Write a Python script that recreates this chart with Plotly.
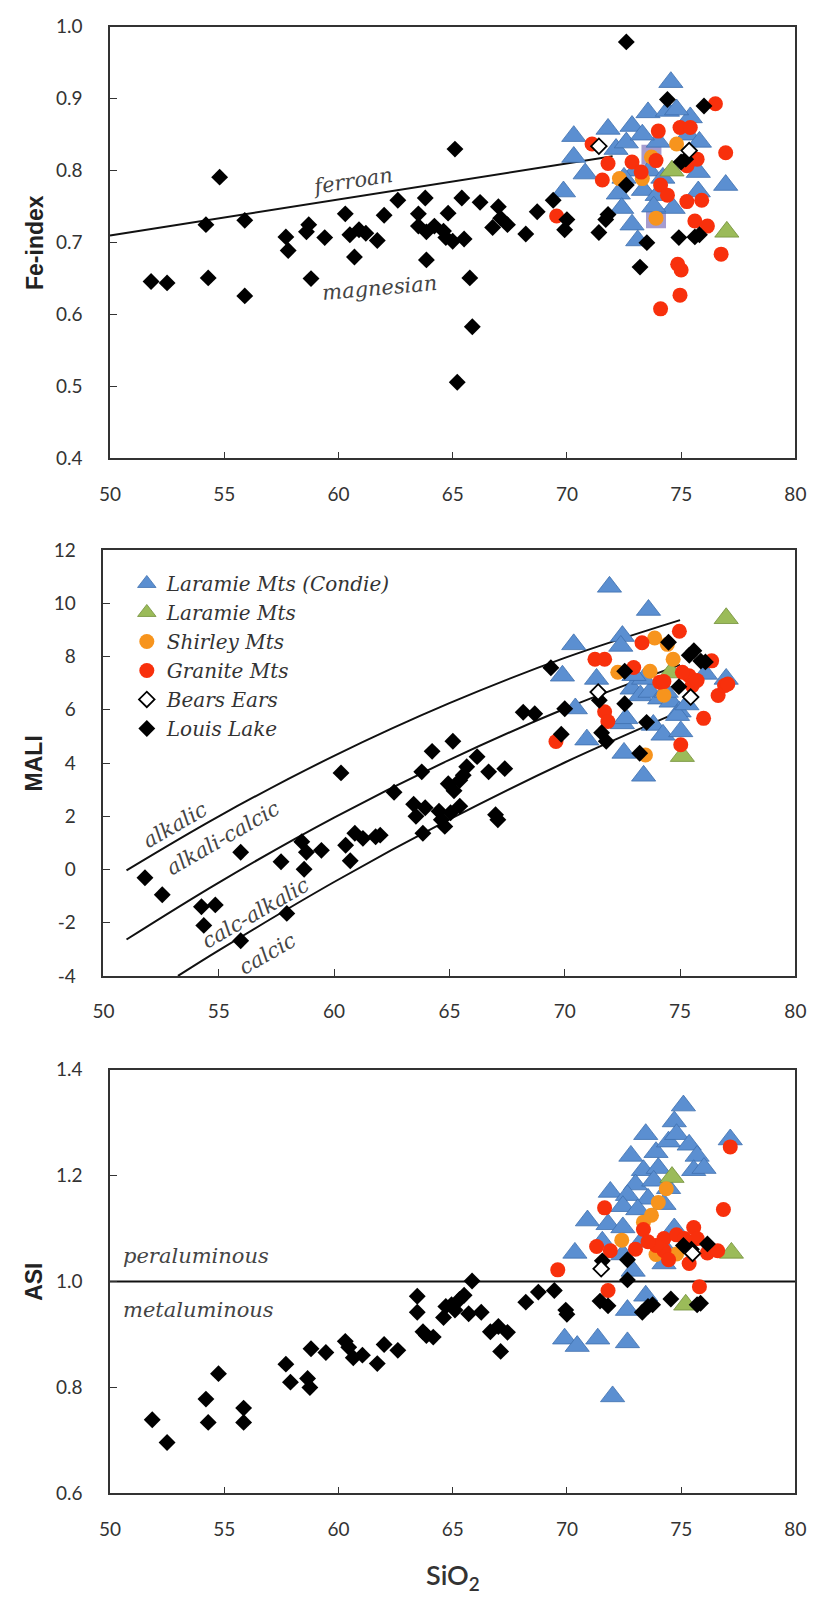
import plotly.graph_objects as go

# ---------------- DATA ----------------
# Panel 1: Fe-index vs SiO2
ll_fe_x = [51.8, 52.5, 54.2, 54.3, 54.8, 55.9, 55.9, 57.7, 57.8, 58.7, 58.6, 58.8, 59.4, 60.3, 60.5, 60.7,
           60.9, 61.2, 61.7, 62.0, 62.6, 63.5, 63.8, 63.5, 63.85, 63.85, 64.2, 64.6, 64.8, 64.7, 65.1, 65.0,
           65.2, 65.4, 65.5, 65.75, 65.86, 66.2, 66.75, 67.0, 67.1, 67.4, 68.2, 68.7, 69.4, 70.0, 69.9, 71.4,
           71.7, 71.8, 72.6, 72.6, 73.2, 73.5, 74.4, 75.0, 75.2, 76.0, 74.9, 75.6, 75.8]
ll_fe_y = [0.646, 0.644, 0.725, 0.651, 0.791, 0.731, 0.626, 0.708, 0.689, 0.725, 0.715, 0.650, 0.707, 0.740,
           0.711, 0.680, 0.718, 0.713, 0.703, 0.738, 0.759, 0.740, 0.762, 0.723, 0.715, 0.676, 0.723, 0.716,
           0.741, 0.707, 0.830, 0.702, 0.506, 0.762, 0.705, 0.651, 0.583, 0.756, 0.721, 0.750, 0.734, 0.725,
           0.712, 0.743, 0.759, 0.732, 0.718, 0.714, 0.732, 0.739, 0.979, 0.780, 0.666, 0.700, 0.899, 0.812,
           0.816, 0.890, 0.707, 0.708, 0.711]
be_fe_x = [71.4, 75.35]
be_fe_y = [0.834, 0.828]
lm_fe_x = [74.6, 77.0]
lm_fe_y = [0.800, 0.715]
sh_fe_x = [74.8, 73.7, 72.3, 73.9, 73.3]
sh_fe_y = [0.837, 0.819, 0.789, 0.734, 0.789]
gr_fe_x = [76.5, 76.95, 74.0, 74.95, 75.4, 71.1, 71.8, 71.55, 72.85, 73.25, 73.9, 74.1, 74.4, 75.25, 75.7,
           75.25, 75.9, 75.6, 76.15, 76.75, 74.85, 75.0, 74.95, 74.1, 69.55]
gr_fe_y = [0.893, 0.825, 0.855, 0.860, 0.860, 0.837, 0.810, 0.787, 0.812, 0.798, 0.814, 0.780, 0.766, 0.807,
           0.816, 0.757, 0.759, 0.730, 0.723, 0.684, 0.670, 0.662, 0.627, 0.608, 0.737]
lc_fe_x = [74.55, 70.3, 71.8, 72.85, 73.55, 74.4, 75.4, 70.3, 70.8, 69.85, 72.15, 72.6, 72.25, 72.4, 72.85,
           73.1, 74.65, 75.75, 75.75, 76.95, 73.35, 73.95, 74.8, 73.0, 73.6, 74.2, 74.0, 73.3, 75.3, 75.8,
           72.5, 73.8]
lc_fe_y = [0.923, 0.848, 0.858, 0.862, 0.881, 0.883, 0.874, 0.819, 0.796, 0.771, 0.830, 0.839, 0.768, 0.748,
           0.725, 0.703, 0.748, 0.798, 0.771, 0.780, 0.773, 0.766, 0.885, 0.800, 0.800, 0.790, 0.840, 0.850,
           0.850, 0.840, 0.790, 0.750]
sq_fe_x = [73.9, 73.7]
sq_fe_y = [0.734, 0.822]
ferroan_x = [50.0, 72.0]
ferroan_y = [0.710, 0.820]

# Panel 2: MALI vs SiO2
ll_ma_x = [51.8, 52.55, 54.25, 54.35, 54.85, 55.95, 55.95, 57.7, 57.95, 58.6, 58.8, 58.7, 59.45, 60.3, 60.5,
           60.7, 60.9, 61.25, 61.8, 62.0, 62.6, 63.45, 63.55, 63.8, 63.85, 63.95, 64.25, 64.55, 64.65, 64.8,
           65.05, 65.15, 64.95, 65.2, 65.45, 65.6, 65.75, 65.45, 66.2, 66.7, 67.0, 67.1, 67.4, 68.2, 68.7,
           69.4, 70.0, 69.85, 71.5, 71.6, 71.8, 72.6, 72.6, 73.25, 73.55, 74.5, 74.95, 75.4, 75.6, 75.9, 76.1]
ll_ma_y = [-0.31, -0.95, -1.40, -2.10, -1.33, 0.65, -2.68, 0.29, -1.65, 1.04, 0.65, 0.01, 0.72, 3.63, 0.91,
           0.33, 1.36, 1.17, 1.23, 1.29, 2.90, 2.45, 2.00, 3.67, 1.36, 2.32, 4.44, 2.19, 1.87, 1.62, 2.13,
           4.82, 3.22, 2.96, 3.35, 3.54, 3.86, 2.38, 4.24, 3.67, 2.06, 1.87, 3.79, 5.91, 5.85, 7.58, 6.04,
           5.08, 6.36, 5.14, 4.82, 7.45, 6.23, 4.37, 5.53, 8.54, 6.87, 8.05, 8.22, 7.83, 7.80]
be_ma_x = [71.45, 75.46]
be_ma_y = [6.67, 6.48]
lm_ma_x = [77.0, 75.1, 74.6]
lm_ma_y = [9.44, 4.26, 7.40]
sh_ma_x = [73.9, 73.7, 73.5, 72.3, 74.45, 74.7, 74.3]
sh_ma_y = [8.70, 7.45, 4.30, 7.41, 8.46, 7.90, 6.55]
gr_ma_x = [74.97, 73.35, 71.31, 71.73, 72.99, 71.73, 71.87, 69.62, 74.12, 75.39, 75.53, 75.74, 76.37, 76.02,
           76.65, 76.93, 77.07, 75.03, 75.10, 74.3]
gr_ma_y = [8.95, 8.52, 7.90, 7.90, 7.59, 5.93, 5.56, 4.81, 7.04, 7.28, 6.91, 7.10, 7.84, 5.68, 6.54, 6.91,
           6.97, 4.69, 7.41, 7.06]
lc_ma_x = [71.94, 73.63, 70.39, 72.5, 72.43, 69.9, 71.38, 70.46, 70.96, 72.57, 73.42, 72.5, 72.92, 73.28,
           73.7, 74.12, 74.61, 74.96, 73.84, 74.26, 75.03, 74.89, 74.4, 73.42, 72.65, 77.0, 73.0, 75.3, 76.1]
lc_ma_y = [10.62, 9.75, 8.46, 8.77, 8.40, 7.28, 7.16, 6.05, 4.88, 4.38, 3.52, 5.49, 6.79, 6.54, 6.67, 6.42,
           6.30, 5.93, 5.43, 5.06, 5.19, 5.80, 6.67, 7.16, 5.68, 7.16, 7.30, 6.20, 7.35]
alk_x = [51.0, 55.0, 60.0, 65.0, 70.0, 75.0]
alk_y = [-0.03, 2.00, 4.27, 6.25, 7.95, 9.37]
alkcal_x = [51.0, 55.0, 60.0, 65.0, 70.0, 75.0]
alkcal_y = [-2.63, -0.49, 1.95, 4.12, 6.04, 7.69]
calcalk_x = [53.23, 55.0, 60.0, 65.0, 70.0, 75.0]
calcalk_y = [-4.00, -3.04, -0.47, 1.88, 4.02, 5.94]
mali_ticks = [-4, -2, 0, 2, 4, 6, 8, 10, 12]
mali_ticktext = ["-4", "-2", "0", "2", "4", "6", "8", "10", "12"]

# Panel 3: ASI vs SiO2
ll_as_x = [51.85, 52.5, 54.2, 54.3, 54.75, 55.85, 55.85, 57.7, 57.9, 58.65, 58.75, 58.8, 59.45, 60.3, 60.45,
           60.65, 61.05, 61.7, 62.0, 62.6, 63.45, 63.45, 63.7, 63.85, 64.15, 64.6, 64.7, 64.95, 65.1, 65.3,
           65.5, 65.7, 65.85, 66.25, 66.65, 67.0, 67.1, 67.4, 68.2, 68.75, 69.45, 69.95, 70.0, 71.45, 71.8,
           71.55, 72.65, 72.65, 73.3, 73.55, 73.75, 74.55, 75.1, 75.45, 75.7, 75.85, 76.15]
ll_as_y = [0.739, 0.696, 0.778, 0.734, 0.826, 0.761, 0.734, 0.844, 0.810, 0.817, 0.800, 0.873, 0.866, 0.887,
           0.876, 0.856, 0.861, 0.845, 0.881, 0.870, 0.972, 0.942, 0.905, 0.898, 0.895, 0.932, 0.953, 0.956,
           0.946, 0.966, 0.974, 0.939, 1.001, 0.942, 0.905, 0.915, 0.868, 0.904, 0.961, 0.980, 0.983, 0.946,
           0.938, 0.963, 0.954, 1.039, 1.041, 1.003, 0.942, 0.953, 0.956, 0.967, 1.068, 1.061, 0.956, 0.959,
           1.071]
be_as_x = [71.5, 75.5]
be_as_y = [1.024, 1.053]
lm_as_x = [74.6, 77.2, 75.2]
lm_as_y = [1.197, 1.054, 0.956]
sh_as_x = [74.35, 74.0, 73.7, 73.35, 72.4, 73.9, 74.8]
sh_as_y = [1.175, 1.149, 1.125, 1.112, 1.078, 1.051, 1.052]
gr_as_x = [77.15, 76.85, 71.65, 73.35, 71.3, 71.9, 73.0, 69.6, 71.8, 74.25, 74.25, 74.45, 74.8, 75.15, 75.55,
           75.7, 75.35, 75.8, 76.15, 76.6, 73.9, 73.55]
gr_as_y = [1.254, 1.136, 1.139, 1.098, 1.066, 1.058, 1.061, 1.022, 0.983, 1.081, 1.058, 1.041, 1.088, 1.081,
           1.102, 1.081, 1.034, 0.990, 1.054, 1.058, 1.068, 1.075]
lc_as_x = [75.1, 74.7, 73.45, 77.15, 72.8, 73.9, 74.45, 74.8, 75.35, 75.7, 73.35, 74.0, 75.55, 76.0, 73.0,
           73.8, 74.45, 71.9, 72.65, 73.55, 72.45, 73.1, 74.25, 70.9, 71.8, 72.45, 74.7, 73.25, 70.35, 71.55,
           72.45, 74.45, 74.25, 72.9, 73.45, 72.65, 71.35, 69.9, 70.45, 72.65, 72.0]
lc_as_y = [1.332, 1.302, 1.278, 1.268, 1.237, 1.244, 1.264, 1.278, 1.258, 1.237, 1.210, 1.214, 1.210, 1.214,
           1.183, 1.190, 1.176, 1.169, 1.163, 1.156, 1.142, 1.136, 1.146, 1.115, 1.108, 1.102, 1.100, 1.075,
           1.054, 1.075, 1.051, 1.054, 1.034, 1.020, 0.973, 0.946, 0.892, 0.892, 0.878, 0.885, 0.783]
asi_x = [50.0, 80.0]
asi_y = [1.0, 1.0]

# ---------------- STYLE ----------------
W, H = 820, 1600
BLUE, BLUE_L = "#5b8fd1", "#3f70ae"
GREEN, GREEN_L = "#9bbb59", "#728f3a"
ORANGE = "#f7941d"
RED = "#f8300c"
TICKFONT = dict(family="Lato", size=19, color="#333333")
ANNFONT = dict(family="DejaVu Serif", size=21, color="#444444", style="italic")
LEGFONT = dict(family="DejaVu Serif", size=20, color="#333333", style="italic")


def px_x(p):
    return p / W


def px_y(p):
    return 1 - p / H


fig = go.Figure()

panels = [
    dict(ax="", dom_x=[101.7, 806], dom_y=[15, 453], yr=[0.4, 1.0], dt=0.1, fmt=".1f",
         series=[(lc_fe_x, lc_fe_y), (lm_fe_x, lm_fe_y), (sh_fe_x, sh_fe_y), (gr_fe_x, gr_fe_y),
                 (ll_fe_x, ll_fe_y), (be_fe_x, be_fe_y)],
         lines=[(ferroan_x, ferroan_y)], legend=False),
    dict(ax="2", dom_x=[95, 806], dom_y=[546, 978], yr=[-4, 12], dt=2, fmt="d",
         series=[(lc_ma_x, lc_ma_y), (lm_ma_x, lm_ma_y), (sh_ma_x, sh_ma_y), (gr_ma_x, gr_ma_y),
                 (ll_ma_x, ll_ma_y), (be_ma_x, be_ma_y)],
         lines=[(alk_x, alk_y), (alkcal_x, alkcal_y), (calcalk_x, calcalk_y)], legend=True),
    dict(ax="3", dom_x=[101.7, 806], dom_y=[1073, 1503], yr=[0.6, 1.4], dt=0.2, fmt=".1f",
         series=[(lc_as_x, lc_as_y), (lm_as_x, lm_as_y), (sh_as_x, sh_as_y), (gr_as_x, gr_as_y),
                 (ll_as_x, ll_as_y), (be_as_x, be_as_y)],
         lines=[(asi_x, asi_y)], legend=False),
]

names = ["Laramie Mts (Condie)", "Laramie Mts", "Shirley Mts", "Granite Mts", "Louis Lake", "Bears Ears"]
ranks = [1, 2, 3, 4, 6, 5]
markers = [
    dict(symbol="triangle-up", size=21, color=BLUE, line=dict(color=BLUE_L, width=0.8)),
    dict(symbol="triangle-up", size=21, color=GREEN, line=dict(color=GREEN_L, width=0.8)),
    dict(symbol="circle", size=15, color=ORANGE, line=dict(width=0)),
    dict(symbol="circle", size=15, color=RED, line=dict(width=0)),
    dict(symbol="diamond", size=13, color="#000000", line=dict(width=0)),
    dict(symbol="diamond", size=12, color="#ffffff", line=dict(color="#000000", width=1.8)),
]

layout_axes = {}
for p in panels:
    xa = "x" + p["ax"]
    ya = "y" + p["ax"]
    for lx, ly in p["lines"]:
        fig.add_trace(go.Scatter(x=lx, y=ly, mode="lines", xaxis=xa, yaxis=ya,
                                 line=dict(color="#111111", width=2, shape="spline"),
                                 showlegend=False, hoverinfo="skip"))
    if p["ax"] == "":
        fig.add_trace(go.Scatter(x=sq_fe_x, y=sq_fe_y, mode="markers", xaxis=xa, yaxis=ya,
                                 marker=dict(symbol="square", size=20, color="#a59ccf"),
                                 showlegend=False))
    for (sx, sy), nm, mk, rk in zip(p["series"], names, markers, ranks):
        fig.add_trace(go.Scatter(x=sx, y=sy, mode="markers", name=nm, xaxis=xa, yaxis=ya,
                                 marker=mk, showlegend=p["legend"], legendrank=rk))
    axis_common = dict(showline=True, linecolor="#333333", linewidth=1.5, mirror=True,
                       ticks="inside", ticklen=7, tickcolor="#333333", tickwidth=1.2,
                       showgrid=False, zeroline=False, tickfont=TICKFONT)
    yextra = dict(dtick=p["dt"], tick0=p["yr"][0], tickformat=p["fmt"])
    if p["ax"] == "2":
        yextra = dict(tickmode="array", tickvals=mali_ticks, ticktext=mali_ticktext)
    layout_axes["xaxis" + p["ax"]] = dict(
        domain=[px_x(p["dom_x"][0]), px_x(p["dom_x"][1])], range=[50, 80], dtick=5, tick0=50,
        anchor=ya, ticklabelstandoff=18, **axis_common)
    layout_axes["yaxis" + p["ax"]] = dict(
        domain=[px_y(p["dom_y"][1]), px_y(p["dom_y"][0])], range=p["yr"],
        anchor=xa, ticklabelstandoff=22, **yextra, **axis_common)

annotations = [
    dict(text="<b>Fe-index</b>", x=px_x(24), y=px_y(234), textangle=-90,
         font=dict(family="Liberation Sans", size=23, color="#222222")),
    dict(text="<b>MALI</b>", x=px_x(24), y=px_y(762), textangle=-90,
         font=dict(family="Liberation Sans", size=23, color="#222222")),
    dict(text="<b>ASI</b>", x=px_x(24), y=px_y(1288), textangle=-90,
         font=dict(family="Liberation Sans", size=23, color="#222222")),
    dict(text="SiO<sub>2</sub>", x=px_x(454), y=px_y(1587),
         font=dict(family="Lato", size=27, color="#333333", weight=600)),
]
for a in annotations:
    a.update(xref="paper", yref="paper", showarrow=False, xanchor="center", yanchor="middle")

data_ann = [
    ("ferroan", "x", "y", 60.6, 0.786, -9),
    ("magnesian", "x", "y", 61.8, 0.637, -5),
    ("alkalic", "x2", "y2", 53.1, 1.68, -30),
    ("alkali-calcic", "x2", "y2", 55.2, 1.17, -30),
    ("calc-alkalic", "x2", "y2", 56.6, -1.65, -30),
    ("calcic", "x2", "y2", 57.1, -3.19, -30),
]
for t, xr, yr, xx, yy, ang in data_ann:
    annotations.append(dict(text=t, x=xx, y=yy, xref=xr, yref=yr, textangle=ang, showarrow=False,
                            font=ANNFONT, xanchor="center", yanchor="middle"))
for t, yy in [("peraluminous", 1.049), ("metaluminous", 0.947)]:
    annotations.append(dict(text=t, x=50.5, y=yy, xref="x3", yref="y3", showarrow=False,
                            font=ANNFONT, xanchor="left", yanchor="middle"))

fig.update_layout(
    width=W, height=H, margin=dict(l=0, r=0, t=0, b=0),
    paper_bgcolor="white", plot_bgcolor="white",
    annotations=annotations,
    legend=dict(x=px_x(119), y=px_y(560), xanchor="left", yanchor="top",
                bgcolor="rgba(0,0,0,0)", font=LEGFONT, itemsizing="trace",
                traceorder="normal", tracegroupgap=0),
    **layout_axes,
)

fig.write_html("out.html")
